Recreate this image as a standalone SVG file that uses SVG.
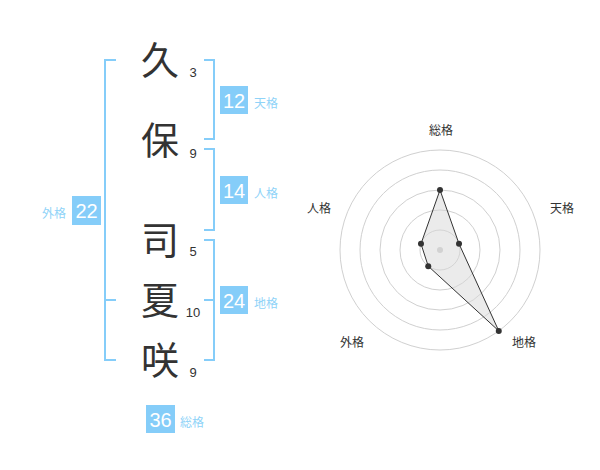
<svg xmlns="http://www.w3.org/2000/svg" width="600" height="470" viewBox="0 0 600 470">
<style>
.kanji{font-family:"Noto Sans CJK JP","Noto Sans CJK SC",sans-serif;font-size:38px;fill:#333;text-anchor:middle}
.stroke{font-family:"Liberation Sans",Arial,sans-serif;font-size:13px;fill:#333;text-anchor:middle}
.br{fill:none;stroke:#85cdf9;stroke-width:2}
.box{fill:#85cdf9}
.num{font-family:"Liberation Sans",Arial,sans-serif;font-size:20px;fill:#fff;text-anchor:middle}
.lab{font-family:"Noto Sans CJK JP","Noto Sans CJK SC",sans-serif;font-size:12px;fill:#8fd3f8}
.axis{font-family:"Noto Sans CJK JP","Noto Sans CJK SC",sans-serif;font-size:12px;fill:#333;text-anchor:middle}
.ring{fill:none;stroke:#d0d0d0;stroke-width:1}
.pt{fill:#333}
</style>
<rect width="600" height="470" fill="#fff"/>
<g id="connectors">
<polyline class="br" points="116,60 105,60 105,360 116,360"/>
<line class="br" x1="105" y1="300" x2="116" y2="300"/>
<polyline class="br" points="204,60 214,60 214,139 204,139"/>
<polyline class="br" points="204,149 214,149 214,230 204,230"/>
<polyline class="br" points="204,240 214,240 214,360 204,360"/>
<line class="br" x1="204" y1="300" x2="214" y2="300"/>
</g>
<g id="char-1"><text class="kanji" x="160" y="74">久</text><text class="stroke" x="193" y="77">3</text></g>
<g id="char-2"><text class="kanji" x="160" y="154">保</text><text class="stroke" x="193" y="158">9</text></g>
<g id="char-3"><text class="kanji" x="160" y="254">司</text><text class="stroke" x="193" y="256">5</text></g>
<g id="char-4"><text class="kanji" x="160" y="314">夏</text><text class="stroke" x="193" y="317">10</text></g>
<g id="char-5"><text class="kanji" x="160" y="374">咲</text><text class="stroke" x="193" y="377">9</text></g>
<g id="tenkaku"><rect class="box" x="220" y="86" width="28" height="28"/><text class="num" x="234" y="108">12</text><text class="lab" x="254" y="108">天格</text></g>
<g id="jinkaku"><rect class="box" x="220" y="176" width="28" height="28"/><text class="num" x="234" y="198">14</text><text class="lab" x="254" y="198">人格</text></g>
<g id="chikaku"><rect class="box" x="220" y="286" width="28" height="28"/><text class="num" x="234" y="308">24</text><text class="lab" x="254" y="308">地格</text></g>
<g id="gaikaku"><rect class="box" x="72" y="196" width="29" height="29"/><text class="num" x="86.5" y="218">22</text><text class="lab" x="66" y="218" text-anchor="end">外格</text></g>
<g id="soukaku"><rect class="box" x="146" y="405" width="29" height="28"/><text class="num" x="160.5" y="427">36</text><text class="lab" x="180" y="427">総格</text></g>
<g id="radar">
<circle class="ring" cx="440" cy="250" r="20"/>
<circle class="ring" cx="440" cy="250" r="40"/>
<circle class="ring" cx="440" cy="250" r="60"/>
<circle class="ring" cx="440" cy="250" r="80"/>
<circle class="ring" cx="440" cy="250" r="100"/>
<circle cx="440" cy="250" r="3" fill="#ccc"/>
<polygon points="440,190 459.02,243.82 498.78,330.9 428.24,266.18 420.98,243.82" fill="#d8d8d8" fill-opacity="0.5" stroke="#333" stroke-width="1"/>
<circle class="pt" cx="440" cy="190" r="3"/>
<circle class="pt" cx="459.02" cy="243.82" r="3"/>
<circle class="pt" cx="498.78" cy="330.9" r="3"/>
<circle class="pt" cx="428.24" cy="266.18" r="3"/>
<circle class="pt" cx="420.98" cy="243.82" r="3"/>
<text class="axis" x="441" y="135">総格</text>
<text class="axis" x="562" y="213">天格</text>
<text class="axis" x="524" y="347">地格</text>
<text class="axis" x="352" y="347">外格</text>
<text class="axis" x="319" y="213">人格</text>
</g>
</svg>
